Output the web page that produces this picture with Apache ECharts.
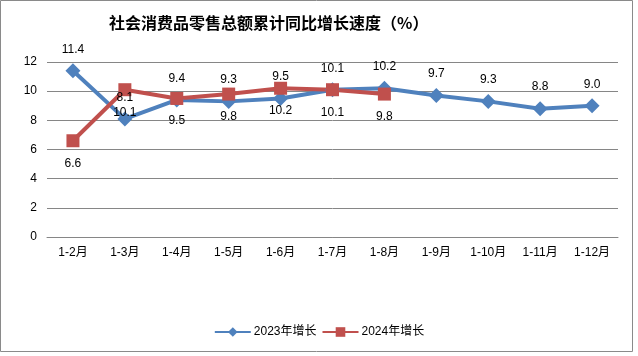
<!DOCTYPE html>
<html>
<head>
<meta charset="utf-8">
<script src="https://cdn.jsdelivr.net/npm/echarts@6/dist/echarts.min.js"></script>
<style>html,body{margin:0;padding:0;background:#fff}#c{width:638px;height:356px}</style>
</head>
<body>
<div id="c"></div>
<script>
var categories = ['1-2月','1-3月','1-4月','1-5月','1-6月','1-7月','1-8月','1-9月','1-10月','1-11月','1-12月'];
var growth2023 = [11.4, 8.1, 9.4, 9.3, 9.5, 10.1, 10.2, 9.7, 9.3, 8.8, 9.0];
var growth2024 = [6.6, 10.1, 9.5, 9.8, 10.2, 10.1, 9.8];
var yTicks = {min: 0, max: 12, interval: 2};

var chart = echarts.init(document.getElementById('c'), null, {renderer: 'canvas'});
var font = '"Liberation Sans", Arial, "Noto Sans CJK SC", sans-serif';
chart.setOption({
  animation: false,
  backgroundColor: '#fff',
  title: {
    text: '社会消费品零售总额累计同比增长速度（%）',
    left: 104, top: 10,
    textStyle: {fontFamily: '"Noto Sans CJK SC", sans-serif', fontSize: 16, fontWeight: 'bold', color: '#000'}
  },
  graphic: [{
    type: 'rect', shape: {x: 0.5, y: 0.5, width: 632, height: 351},
    style: {fill: 'none', stroke: '#8a8a8a', lineWidth: 1}, silent: true
  }],
  legend: {
    bottom: 13, left: 'center',
    itemWidth: 36, itemHeight: 12, itemGap: 5,
    textStyle: {fontFamily: font, fontSize: 12, color: '#000', padding: [0, 0, 0, -2]},
    data: ['2023年增长', '2024年增长']
  },
  grid: {left: 47, right: 20, top: 62, bottom: 119, containLabel: false},
  xAxis: {
    type: 'category', data: categories, boundaryGap: true,
    axisLine: {show: true, lineStyle: {color: '#868686', width: 1}},
    axisTick: {show: false},
    axisLabel: {fontFamily: font, fontSize: 12, color: '#000', margin: 10, interval: 0}
  },
  yAxis: {
    type: 'value', min: yTicks.min, max: yTicks.max, interval: yTicks.interval,
    axisLine: {show: false}, axisTick: {show: false},
    axisLabel: {fontFamily: font, fontSize: 12, color: '#000', margin: 10},
    splitLine: {lineStyle: {color: '#868686', width: 1}}
  },
  series: [{
    name: '2023年增长', type: 'line', data: growth2023,
    symbol: 'diamond', symbolSize: 15,
    itemStyle: {color: '#4F81BD'},
    lineStyle: {color: '#4F81BD', width: 4},
    label: {show: true, position: 'top', distance: 8, fontFamily: font, fontSize: 12, color: '#000',
      formatter: function(p){ return p.value.toFixed(1); }}
  }, {
    name: '2024年增长', type: 'line', data: growth2024,
    symbol: 'rect', symbolSize: 13,
    itemStyle: {color: '#C0504D'},
    lineStyle: {color: '#C0504D', width: 4},
    label: {show: true, position: 'bottom', distance: 10, fontFamily: font, fontSize: 12, color: '#000',
      formatter: function(p){ return p.value.toFixed(1); }}
  }]
});
</script>
</body>
</html>
